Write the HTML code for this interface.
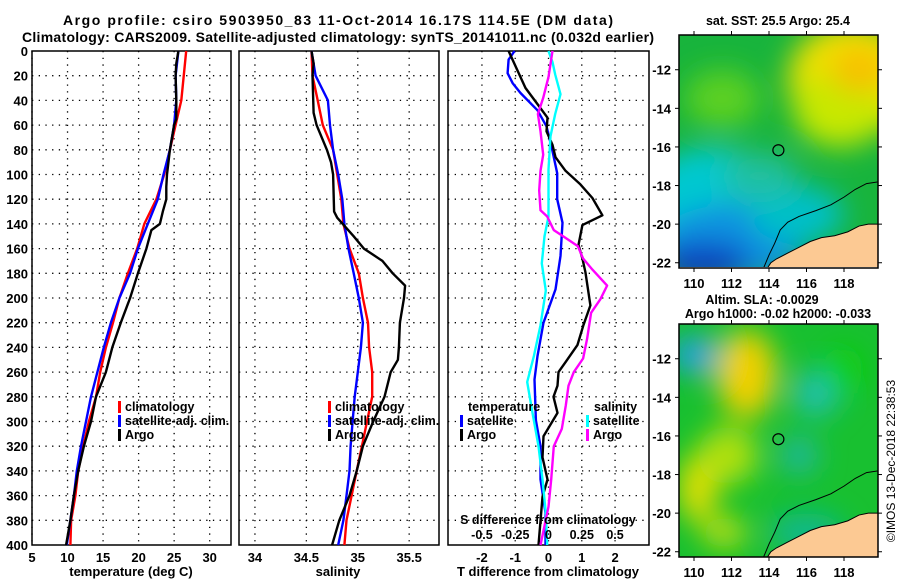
<!DOCTYPE html>
<html><head><meta charset="utf-8"><style>
html,body{margin:0;padding:0;background:#fff;}
svg{display:block;font-family:"Liberation Sans",sans-serif;font-weight:bold;}
</style></head><body>
<svg id="c" width="900" height="580" viewBox="0 0 900 580" xmlns="http://www.w3.org/2000/svg">
<defs>
<filter id="blur" x="-20%" y="-20%" width="140%" height="140%"><feGaussianBlur stdDeviation="14"/></filter>
<filter id="blur2" x="-20%" y="-20%" width="140%" height="140%"><feGaussianBlur stdDeviation="10"/></filter>
<clipPath id="clipTop"><rect x="679" y="35" width="199" height="232"/></clipPath>
<clipPath id="clipBot"><rect x="679" y="324" width="199" height="233"/></clipPath>
</defs>
<text x="338" y="25" text-anchor="middle" font-size="14" textLength="550">Argo profile: csiro 5903950_83 11-Oct-2014 16.17S 114.5E (DM data)</text>
<text x="338" y="42" text-anchor="middle" font-size="14" textLength="632">Climatology: CARS2009. Satellite-adjusted climatology: synTS_20141011.nc (0.032d earlier)</text>
<g id="g1"></g>
<g id="g2"></g>
<g id="g3"></g>
<g id="m1"></g>
<g id="m2"></g>
<text transform="translate(895,461) rotate(-90)" text-anchor="middle" font-size="12" font-weight="normal">©IMOS 13-Dec-2018 22:38:53</text>
</svg>
<script>
// depths
const depthTicks=[0,20,40,60,80,100,120,140,160,180,200,220,240,260,280,300,320,340,360,380,400];
// temperature profiles [depth, value]
const tClim=[[0,26.7],[40,26.0],[55,25.4],[80,24.4],[100,23.6],[120,22.5],[140,20.8],[160,19.8],[180,18.5],[200,17.3],[220,16.4],[240,15.4],[260,14.6],[280,14.0],[300,13.0],[320,12.2],[340,11.5],[360,11.1],[380,10.5],[400,10.4]];
const tSat=[[0,25.6],[20,25.2],[40,25.3],[60,25.0],[80,24.4],[100,23.5],[120,22.7],[140,21.3],[160,19.9],[180,18.8],[200,17.3],[220,16.1],[240,15.1],[260,14.2],[280,13.3],[300,12.6],[320,11.9],[340,11.3],[360,10.9],[380,10.4],[400,9.9]];
const tArgo=[[0,25.6],[10,25.3],[20,25.2],[40,25.3],[55,25.3],[60,25.0],[80,24.4],[100,24.0],[110,23.9],[120,23.9],[130,23.4],[140,23.0],[145,21.8],[160,21.1],[180,19.9],[200,18.8],[220,17.5],[240,16.3],[260,15.4],[280,14.0],[300,13.3],[320,12.3],[340,11.5],[360,10.9],[380,10.4],[400,9.8]];
// salinity profiles
const sClim=[[0,34.55],[20,34.56],[40,34.61],[60,34.66],[80,34.76],[100,34.80],[120,34.84],[140,34.86],[160,34.92],[180,35.01],[200,35.05],[220,35.10],[240,35.11],[260,35.14],[280,35.14],[300,35.09],[320,35.04],[340,34.99],[360,34.94],[380,34.89],[400,34.87]];
const sSat=[[0,34.55],[20,34.59],[40,34.71],[60,34.73],[80,34.76],[100,34.81],[120,34.85],[140,34.87],[160,34.91],[180,34.96],[200,35.01],[220,35.05],[240,35.03],[260,35.00],[280,34.97],[300,34.95],[320,34.93],[340,34.92],[360,34.89],[380,34.86],[400,34.81]];
const sArgo=[[0,34.55],[10,34.57],[20,34.56],[50,34.57],[60,34.60],[80,34.70],[90,34.74],[100,34.76],[130,34.77],[135,34.80],[150,34.96],[160,35.06],[170,35.24],[180,35.34],[190,35.46],[200,35.45],[220,35.41],[240,35.40],[250,35.39],[260,35.32],[280,35.26],[300,35.15],[320,35.05],[340,34.99],[360,34.92],[380,34.82],[400,34.75]];
// differences from climatology
const dTSat=[[0,-1.02],[7,-1.2],[18,-1.23],[26,-1.08],[34,-0.84],[48,-0.33],[61,-0.06],[80,0.11],[99,0.26],[120,0.26],[139,0.42],[166,0.36],[193,0.21],[220,-0.15],[247,-0.33],[266,-0.42],[299,-0.38],[320,-0.24],[347,-0.24],[374,-0.09],[400,-0.09]];
const dTArgo=[[0,-1.2],[16,-0.93],[30,-0.69],[43,-0.33],[54,-0.03],[65,-0.06],[76,0.12],[86,0.21],[97,0.51],[108,0.96],[119,1.32],[133,1.62],[141,1.02],[157,0.9],[168,1.02],[179,1.11],[206,1.26],[222,1.05],[238,0.87],[252,0.51],[260,0.3],[271,0.27],[280,0.15],[293,0.27],[312,-0.15],[329,-0.18],[347,-0.03],[361,-0.18],[400,-0.3]];
const dSSat=[[0,0],[9,0.03],[19,0.05],[35,0.09],[51,0.05],[69,0.015],[96,0],[134,0],[150,-0.03],[172,-0.05],[194,-0.02],[222,-0.06],[247,-0.11],[268,-0.16],[293,-0.12],[320,-0.075],[347,-0.045],[374,-0.02],[400,-0.01]];
const dSArgo=[[0,0.03],[21,0],[38,-0.04],[51,-0.08],[65,-0.06],[84,-0.04],[97,-0.06],[113,-0.07],[129,-0.06],[134,-0.01],[145,0.04],[150,0.11],[158,0.22],[168,0.26],[177,0.33],[190,0.44],[201,0.39],[212,0.32],[233,0.29],[249,0.26],[260,0.19],[271,0.15],[287,0.13],[306,0.1],[320,0.04],[347,0.02],[369,0.0],[400,-0.06]];
const tTicks=[5,10,15,20,25,30], sTicks=[34,34.5,35,35.5], dTTicks=[-2,-1,0,1,2], dSTicks=[-0.5,-0.25,0,0.25,0.5];
const lonTicks=[110,112,114,116,118], latTicks=[-12,-14,-16,-18,-20,-22];

const NS='http://www.w3.org/2000/svg';
function mk(tag,attrs,parent,txt){const e=document.createElementNS(NS,tag);for(const k in attrs)e.setAttribute(k,attrs[k]);if(txt!==undefined)e.textContent=txt;parent.appendChild(e);return e;}
const Y0=51,Y1=545;
const yD=d=>Y0+d*(Y1-Y0)/400;
function panel(g,x0,x1,vmin,vmax,ticks,fmt,grid){
  const sx=v=>x0+(v-vmin)*(x1-x0)/(vmax-vmin);
  for(const d of depthTicks){ if(d>0&&d<400){const l=mk('line',{x1:x0,x2:x1,y1:yD(d),y2:yD(d),stroke:'#000','stroke-width':1.3,'stroke-dasharray':'1.3 5.4'},g);}}
  for(const t of (grid||ticks)){const l=mk('line',{x1:sx(t),x2:sx(t),y1:Y0,y2:Y1,stroke:'#000','stroke-width':1.3,'stroke-dasharray':'1.3 5.4'},g);}
  const r=mk('rect',{x:x0,y:Y0,width:x1-x0,height:Y1-Y0,fill:'none',stroke:'#000','stroke-width':1.5},g);
  
  if(fmt){for(const t of ticks){const tx=mk('text',{x:sx(t),y:562,'text-anchor':'middle','font-size':13},g,fmt(t));}}
  return sx;
}
function line(g,data,sx,color,name){
  const pts=data.map(p=>sx(p[1]).toFixed(1)+','+yD(p[0]).toFixed(1)).join(' ');
  const l=mk('polyline',{points:pts,fill:'none',stroke:color,'stroke-width':2.4,'stroke-linejoin':'round'},g);
  
  
}
function legend(g,x,y,items){
  items.forEach((it,i)=>{
    const r=mk('rect',{x:x,y:y+i*14-10,width:3,height:12,fill:it[1]},g);
    
    const t=mk('text',{x:x+7,y:y+i*14,'font-size':12.5},g,it[0]);
    
  });
}
const g1=document.getElementById('g1'),g2=document.getElementById('g2'),g3=document.getElementById('g3');
for(const d of depthTicks){const t=mk('text',{x:28,y:yD(d)+5,'text-anchor':'end','font-size':13},g1,String(d));}
const sx1=panel(g1,32,231,5,33,tTicks,v=>String(v));
line(g1,tClim,sx1,'#ff0000','temp-climatology-line');
line(g1,tSat,sx1,'#0000ff','temp-satellite-line');
line(g1,tArgo,sx1,'#000000','temp-argo-line');
legend(g1,118,411,[['climatology','#f00'],['satellite-adj. clim.','#00f'],['Argo','#000']]);
const xl1=mk('text',{x:131,y:576,'text-anchor':'middle','font-size':13},g1,'temperature (deg C)');

const sx2=panel(g2,239,439,33.845,35.79,sTicks,v=>String(v));
line(g2,sClim,sx2,'#ff0000','sal-climatology-line');
line(g2,sSat,sx2,'#0000ff','sal-satellite-line');
line(g2,sArgo,sx2,'#000000','sal-argo-line');
legend(g2,328,411,[['climatology','#f00'],['satellite-adj. clim.','#00f'],['Argo','#000']]);
const xl2=mk('text',{x:338,y:576,'text-anchor':'middle','font-size':13},g2,'salinity');

const sx3=panel(g3,448,649,-3.02,3.02,dTTicks,v=>String(v));
const sxS=v=>sx3(v*4);
line(g3,dTSat,sx3,'#0000ff','tdiff-satellite-line');
line(g3,dTArgo,sx3,'#000000','tdiff-argo-line');
line(g3,dSSat,sxS,'#00ffff','sdiff-satellite-line');
line(g3,dSArgo,sxS,'#ff00ff','sdiff-argo-line');
const lt=mk('text',{x:468,y:411,'font-size':12.5},g3,'temperature');
legend(g3,460,425,[['satellite','#00f'],['Argo','#000']]);
const ls=mk('text',{x:594,y:411,'font-size':12.5},g3,'salinity');
legend(g3,586,425,[['satellite','#0ff'],['Argo','#f0f']]);
const st=mk('text',{x:548,y:524,'text-anchor':'middle','font-size':12.5},g3,'S difference from climatology');
for(const t of dSTicks){const tx=mk('text',{x:sxS(t),y:539,'text-anchor':'middle','font-size':12.5},g3,String(t));}
const xl3=mk('text',{x:548,y:576,'text-anchor':'middle','font-size':13},g3,'T difference from climatology');

// maps
function map(g,top,clip,blobs,base,title){
  const lx=lon=>679+(lon-109.2)*18.75, ly=lat=>top+(-10.2-lat)*19.3;
  const inner=mk('g',{'clip-path':'url(#'+clip+')'},g);
  const bg=mk('rect',{x:679,y:top,width:199,height:233,fill:base},inner);
  const bl=mk('g',{filter:'url(#blur)'},inner);
  for(const b of blobs){const e=mk('ellipse',{cx:lx(b[0]),cy:ly(b[1]),rx:b[2]*18.75,ry:b[3]*19.3,fill:b[4]},bl);}
  const coast=[[113.9,-22.3],[114.1,-22.0],[114.4,-21.8],[115.0,-21.5],[115.6,-21.2],[116.2,-20.9],[116.8,-20.7],[117.5,-20.6],[118.2,-20.4],[118.8,-20.1],[119.3,-20.0],[119.9,-20.0],[119.9,-22.3]];
  const land=mk('polygon',{points:coast.map(p=>lx(p[0])+','+ly(p[1])).join(' '),fill:'#fcc993',stroke:'#000','stroke-width':1},inner);
  const iso=[[113.7,-22.3],[114.0,-21.6],[114.3,-21.0],[114.6,-20.3],[115.0,-19.9],[115.6,-19.6],[116.5,-19.3],[117.3,-19.0],[118.0,-18.6],[118.6,-18.2],[119.2,-17.9],[119.9,-17.8]];
  const il=mk('polyline',{points:iso.map(p=>lx(p[0])+','+ly(p[1])).join(' '),fill:'none',stroke:'#000','stroke-width':1},inner);
  const c=mk('circle',{cx:lx(114.5),cy:ly(-16.17),r:5.5,fill:'none',stroke:'#000','stroke-width':1.2},g);
  const fr=mk('rect',{x:679,y:top,width:199,height:233,fill:'none',stroke:'#000','stroke-width':1.5},g);
  for(const t of latTicks){const y=ly(t);mk('line',{x1:679,x2:675,y1:y,y2:y,stroke:'#000'},g);mk('line',{x1:878,x2:882,y1:y,y2:y,stroke:'#000'},g);const tx=mk('text',{x:671,y:y+5,'text-anchor':'end','font-size':13},g,String(t));}
  for(const t of lonTicks){const x=lx(t);mk('line',{x1:x,x2:x,y1:top,y2:top-4,stroke:'#000'},g);mk('line',{x1:x,x2:x,y1:top+233,y2:top+237,stroke:'#000'},g);const tx=mk('text',{x:x,y:top+253,'text-anchor':'middle','font-size':13},g,String(t));}
}
const m1=document.getElementById('m1'),m2=document.getElementById('m2');
map(m1,35,'clipTop',[
 [118.5,-12.5,3.5,3,'#f0e000'],[117.8,-14,2.5,2,'#c8e800'],[118.8,-12,1.5,1.2,'#f8c000'],
 [111.5,-13.5,2,1.5,'#5cd020'],[111,-19,4,3,'#00c8d0'],[112,-21,4,2,'#1090e0'],[110.5,-22,2.5,1,'#0a3cc0'],[115.5,-19.5,2.5,1.5,'#00c0c8'],[113.5,-17.5,2,1.2,'#20c0a0']
],'#18b43c','');
map(m2,324,'clipBot',[
 [112.8,-12.8,1.6,2.3,'#f0d000'],[110.2,-18.7,1,1.8,'#e8e000'],[111.8,-17,1.6,1.5,'#b0e010'],[111.6,-21,1.2,0.8,'#c0e010'],
 [110,-11.8,1.3,1,'#20a0e0'],[116.5,-13.8,1.2,1.2,'#20c0b0'],[115.6,-17,1,1,'#20b8a0'],[118,-12.6,1,1.2,'#10d010'],[116,-21,2,1,'#10b890']
],'#18c030','');
const sst=mk('text',{x:778,y:25,'text-anchor':'middle','font-size':12.5},m1,'sat. SST: 25.5 Argo: 25.4');
const sla=mk('text',{x:762,y:304,'text-anchor':'middle','font-size':12.5},m2,'Altim. SLA: -0.0029');
const h=mk('text',{x:778,y:318,'text-anchor':'middle','font-size':12.5},m2,'Argo h1000: -0.02 h2000: -0.033');
</script>
</body></html>
